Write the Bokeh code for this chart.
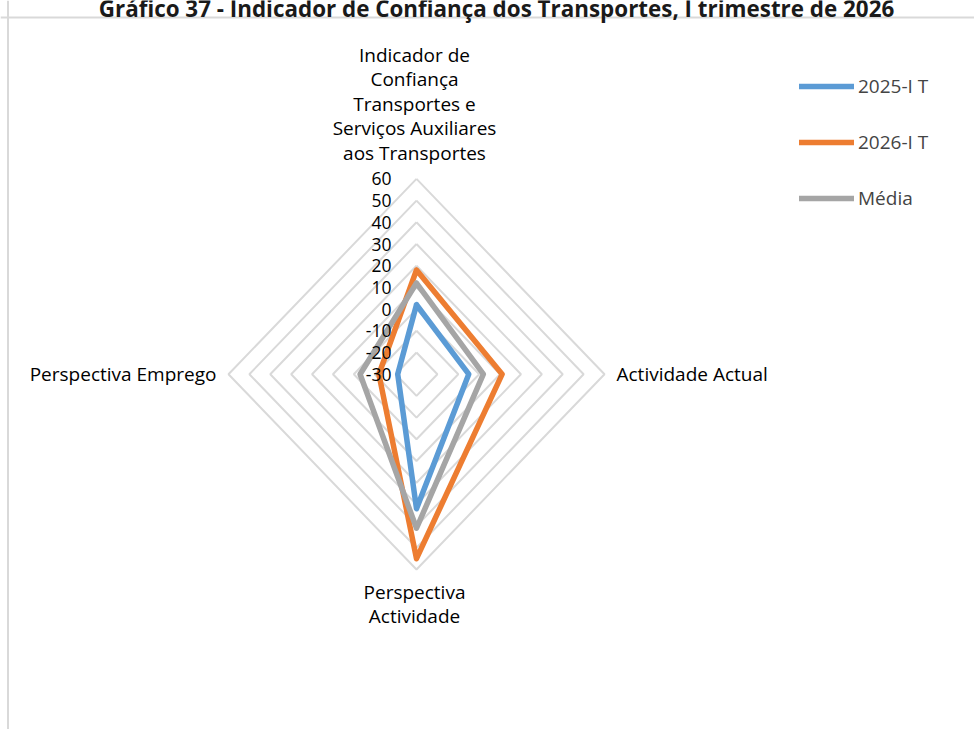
import numpy as np
from bokeh.plotting import figure
from bokeh.models import Range1d, Label, Legend, LegendItem, Span, ColumnDataSource
from bokeh.core.properties import value
from bokeh.embed import file_html
from bokeh.resources import INLINE

# ---- data ----
categories = ["Indicador de Confiança Transportes e Serviços Auxiliares aos Transportes",
              "Actividade Actual", "Perspectiva Actividade", "Perspectiva Emprego"]
category_lines = [["Indicador de", "Confiança", "Transportes e", "Serviços Auxiliares", "aos Transportes"],
                  ["Actividade Actual"],
                  ["Perspectiva", "Actividade"],
                  ["Perspectiva Emprego"]]
series_names = ["2025-I T", "2026-I T", "Média"]
values_2025 = [2, -5, 32, -21]
values_2026 = [18, 11, 55, -12]
values_media = [12, 2, 41, -3]
tick_values = [-30, -20, -10, 0, 10, 20, 30, 40, 50, 60]
tick_labels = ["-30", "-20", "-10", "0", "10", "20", "30", "40", "50", "60"]
title_text = "Gráfico 37 - Indicador de Confiança dos Transportes, I trimestre de 2026"

colors = ["#5B9BD5", "#ED7D31", "#A5A5A5"]
FONT = "Open Sans"
FS = "19px"
TICK_FS = "17.5px"

# ---- geometry (screen pixels) ----
W, H = 974, 729
cx_px, cy_px = 416.0, 373.7
R = tick_values[-1] - tick_values[0]
ppu_x = 188.0 / R
ppu_y = 195.3 / R

p = figure(width=W, height=H, output_backend="svg", toolbar_location=None,
           x_range=Range1d(-cx_px / ppu_x, (W - cx_px) / ppu_x),
           y_range=Range1d(-(H - cy_px) / ppu_y, cy_px / ppu_y),
           min_border=0, outline_line_color=None,
           x_axis_type=None, y_axis_type=None)
p.xgrid.visible = False
p.ygrid.visible = False
p.background_fill_color = "white"

n = len(categories)
theta = np.pi / 2 - np.arange(n) * 2 * np.pi / n

def to_xy(vals):
    r = np.array(vals, dtype=float) - tick_values[0]
    return list(r * np.cos(theta)), list(r * np.sin(theta))

# grid rings
xs, ys = [], []
for t in tick_values[1:]:
    x, y = to_xy([t] * n)
    xs.append(x + [x[0]])
    ys.append(y + [y[0]])
p.multi_line(xs, ys, line_color="#D9D9D9", line_width=2)

# series
items = []
for name, vals, c in zip(series_names, [values_2025, values_2026, values_media], colors):
    x, y = to_xy(vals)
    r = p.line(x + [x[0]], y + [y[0]], line_color=c, line_width=5.5, line_join="round", line_cap="round")
    items.append(LegendItem(label=name, renderers=[r]))

# tick labels
tick_src = ColumnDataSource(dict(x=[0] * len(tick_values),
                                 y=[t - tick_values[0] for t in tick_values],
                                 text=tick_labels))
p.text("x", "y", text="text", source=tick_src, x_offset=-25,
       text_align="right", text_baseline="middle",
       text_font=value(FONT), text_font_size=value(TICK_FS), text_color="black")

# category labels
line_h = 24.5
top_lines = category_lines[0]
nl = len(top_lines)
for k, s in enumerate(top_lines):
    dy = 26 + (nl - 1 - k) * line_h
    p.text([0], [R + dy / ppu_y], text=[s], text_align="center", text_baseline="middle",
           x_offset=-2, text_font=value(FONT), text_font_size=value(FS), text_color="black")
p.text([R + 12 / ppu_x], [0], text=[category_lines[1][0]], text_align="left", text_baseline="middle",
       text_font=value(FONT), text_font_size=value(FS), text_color="black")
for k, s in enumerate(category_lines[2]):
    dy = 22 + k * 24
    p.text([0], [-R - dy / ppu_y], text=[s], text_align="center", text_baseline="middle",
           x_offset=-2, text_font=value(FONT), text_font_size=value(FS), text_color="black")
p.text([-R - 12 / ppu_x], [0], text=[category_lines[3][0]], text_align="right", text_baseline="middle",
       text_font=value(FONT), text_font_size=value(FS), text_color="black")

# legend
legend = Legend(items=items, location=(799, H - 211), orientation="vertical",
                glyph_width=55, glyph_height=26, label_height=26, spacing=30,
                padding=0, margin=0, label_standoff=4,
                border_line_color=None, background_fill_alpha=0,
                label_text_font=FONT, label_text_font_size=FS)
p.add_layout(legend, "center")

# chart-area border (left and top edges visible in the crop)
p.add_layout(Span(location=-(cx_px - 7.5) / ppu_x, dimension="height", line_color="#D9D9D9", line_width=2))
p.add_layout(Span(location=(cy_px - 17) / ppu_y, dimension="width", line_color="#D9D9D9", line_width=2))

# title (cut at the top as in the source)
p.add_layout(Label(x=496, y=H - 8, x_units="screen", y_units="screen", text=title_text,
                   text_align="center", text_baseline="alphabetic",
                   text_font=FONT, text_font_size="22.4px", text_font_style="bold", text_color="#1a1a1a"))

open("out.html", "w").write(file_html(p, INLINE))
